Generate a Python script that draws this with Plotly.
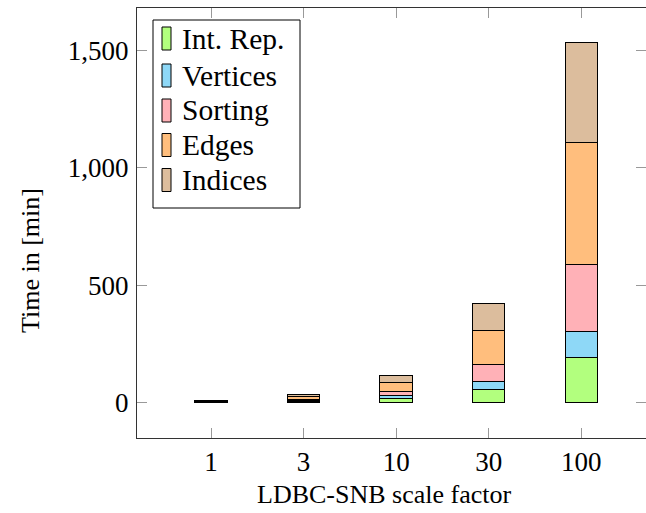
import plotly.graph_objects as go

# LDBC-SNB build time breakdown (minutes) per scale factor
scale_factors = ["1", "3", "10", "30", "100"]
series_names = ["Int. Rep.", "Vertices", "Sorting", "Edges", "Indices"]
int_rep = [1.5, 5, 17, 54, 190]
vertices = [1.2, 4, 14, 37, 112]
sorting = [1.5, 5, 16, 73, 285]
edges = [3.5, 11, 40, 142, 520]
indices = [2.5, 9, 30, 117, 427]
series_values = [int_rep, vertices, sorting, edges, indices]
colors = ["#b2ff7e", "#8ed8f7", "#ffb1b7", "#ffbe7d", "#dcbd9d"]
y_ticks = [0, 500, 1000, 1500]

W, H = 646, 513
ML, MR, MT, MB = 137, 0, 8, 75
PW, PH = W - ML - MR, H - MT - MB
FONT = "Liberation Serif"
FS_TICK = 27
FS_TITLE = 26
FS_LEG = 29.5


def px(x):
    return (x - ML) / PW


def py(y):
    return 1 - (y - MT) / PH


fig = go.Figure()
for name, vals, col in zip(series_names, series_values, colors):
    fig.add_trace(go.Bar(
        x=scale_factors, y=vals, name=name, width=0.35,
        marker=dict(color=col, line=dict(color="black", width=1)),
        showlegend=False,
    ))

# invisible trace to carry mirrored ticks on the right side
fig.add_trace(go.Scatter(x=[scale_factors[0]], y=[0], yaxis="y2",
                         mode="markers", marker=dict(opacity=0),
                         showlegend=False, hoverinfo="skip"))

yr = [-151, 1681]
fig.update_layout(
    width=W, height=H, barmode="stack",
    margin=dict(l=ML, r=MR, t=MT, b=MB),
    paper_bgcolor="white", plot_bgcolor="white",
    font=dict(family=FONT, size=FS_TICK, color="black"),
    xaxis=dict(type="category", range=[-0.8, 4.7], showline=True,
               linecolor="#333", linewidth=1, mirror="ticks",
               ticks="inside", ticklen=10, tickcolor="#999",
               showgrid=False, zeroline=False,
               tickfont=dict(family=FONT, size=FS_TICK)),
    yaxis=dict(range=yr, tickvals=y_ticks, tickformat=",",
               showline=True, linecolor="#333", linewidth=1, mirror=False,
               ticks="inside", ticklen=10, tickcolor="#999",
               ticklabelstandoff=2,
               showgrid=False, zeroline=False,
               tickfont=dict(family=FONT, size=FS_TICK)),
    yaxis2=dict(range=yr, tickvals=y_ticks, overlaying="y", side="right",
                showline=False, ticks="inside", ticklen=10, tickcolor="#999",
                showticklabels=False, showgrid=False, zeroline=False),
)

# axis titles
fig.add_annotation(text="LDBC-SNB scale factor", xref="paper", yref="paper",
                   x=px(384), y=py(494), showarrow=False,
                   xanchor="center", yanchor="middle",
                   font=dict(family=FONT, size=FS_TITLE))
fig.add_annotation(text="Time in [min]", xref="paper", yref="paper",
                   x=px(30), y=py(261), showarrow=False, textangle=-90,
                   xanchor="center", yanchor="middle",
                   font=dict(family=FONT, size=FS_TITLE))

# legend box with tall swatches
fig.add_shape(type="rect", xref="paper", yref="paper",
              x0=px(153), x1=px(300), y0=py(208), y1=py(20),
              line=dict(color="black", width=1), fillcolor="white", layer="above")
row_y = [38.5, 75.5, 110.5, 145, 180]
for name, col, yc in zip(series_names, colors, row_y):
    fig.add_shape(type="rect", xref="paper", yref="paper",
                  x0=px(162), x1=px(171), y0=py(yc + 11.5), y1=py(yc - 11.5),
                  line=dict(color="black", width=1), fillcolor=col, layer="above")
    fig.add_annotation(text=name, xref="paper", yref="paper",
                       x=px(180), y=py(yc), showarrow=False,
                       xanchor="left", yanchor="middle",
                       font=dict(family=FONT, size=FS_LEG))

fig.write_html("out.html")
